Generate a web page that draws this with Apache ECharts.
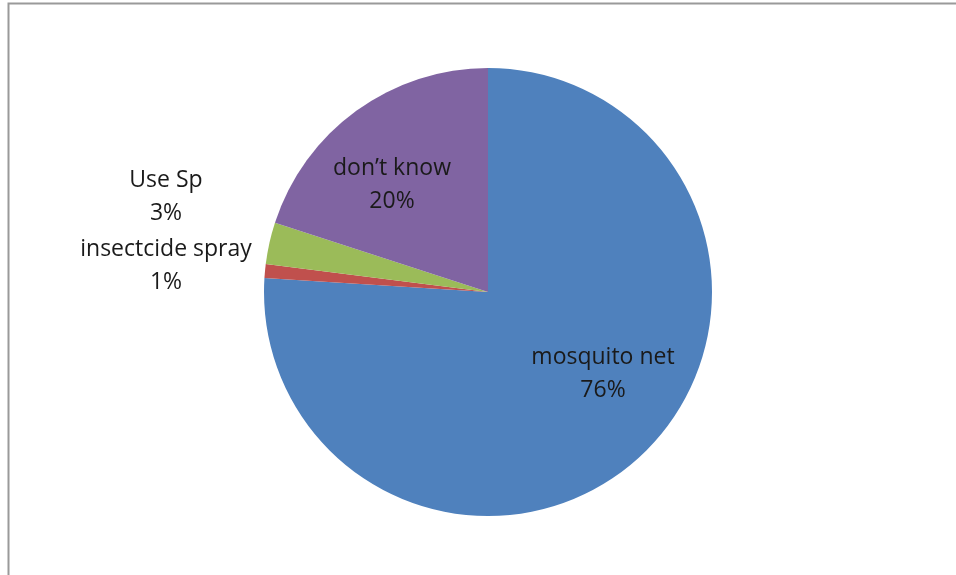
<!DOCTYPE html>
<html>
<head>
<meta charset="utf-8">
<script src="https://cdn.jsdelivr.net/npm/echarts@6/dist/echarts.min.js"></script>
<style>
  html, body { margin: 0; padding: 0; background: #fff; }
  #chart { width: 956px; height: 575px; }
</style>
</head>
<body>
<div id="chart"></div>
<script>
// Protective measures against mosquitoes (share of respondents, %)
const categories = ['mosquito net', 'insectcide spray', 'Use Sp', "don\u2019t know"];
const shares = [76, 1, 3, 20];
const colors = ['#4F81BD', '#C0504D', '#9BBB59', '#8064A2'];

// label anchor points (centre of each two-line label)
const labelSpots = [
  { x: 603, y: 374 },
  { x: 166, y: 266 },
  { x: 166, y: 197 },
  { x: 392, y: 185 }
];

const chart = echarts.init(document.getElementById('chart'), null, { renderer: 'canvas' });

chart.setOption({
  backgroundColor: '#ffffff',
  animation: false,
  graphic: [{
    type: 'rect',
    shape: { x: 8.5, y: 3.5, width: 1000, height: 1000 },
    style: { fill: 'none', stroke: '#9a9a9a', lineWidth: 2 },
    silent: true
  }],
  series: [{
    type: 'pie',
    center: [488, 292],
    radius: [0, 224],
    startAngle: 90,
    clockwise: true,
    data: categories.map((name, i) => ({
      name,
      value: shares[i],
      itemStyle: { color: colors[i] }
    })),
    itemStyle: { borderWidth: 0 },
    label: {
      show: true,
      position: 'inside',
      formatter: p => p.name + '\n' + p.value + '%',
      fontFamily: 'Open Sans, Liberation Sans, sans-serif',
      fontSize: 23,
      lineHeight: 33,
      color: '#1a1a1a',
      align: 'center',
      verticalAlign: 'middle'
    },
    labelLine: { show: false },
    labelLayout: p => ({
      x: labelSpots[p.dataIndex].x,
      y: labelSpots[p.dataIndex].y,
      align: 'center',
      verticalAlign: 'middle'
    })
  }]
});
</script>
</body>
</html>
